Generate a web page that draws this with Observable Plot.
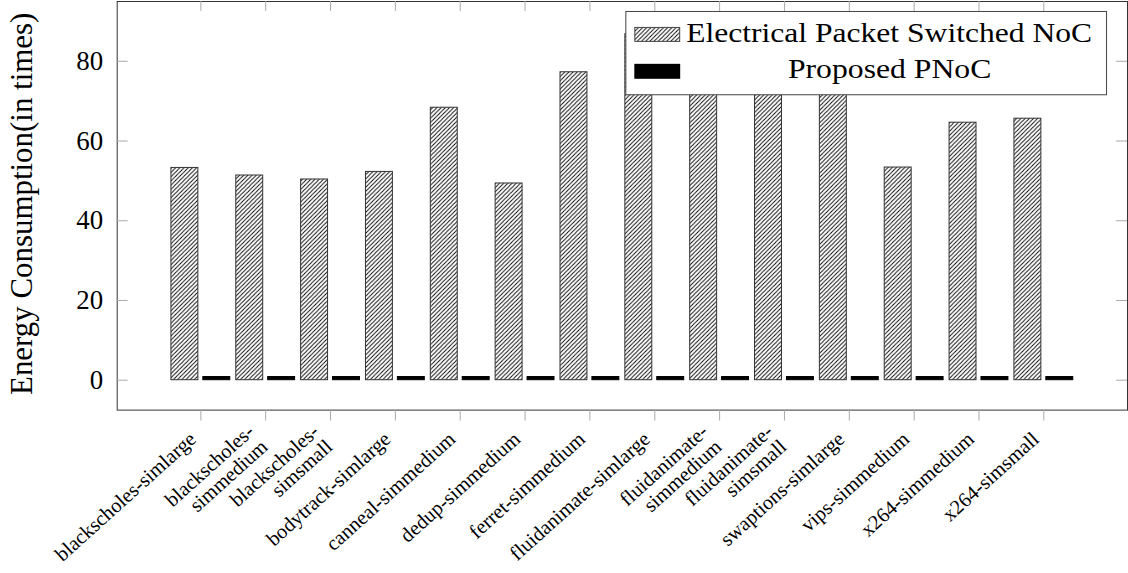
<!DOCTYPE html>
<html>
<head>
<meta charset="utf-8">
<script src="https://cdn.jsdelivr.net/npm/d3@7"></script>
<script src="https://cdn.jsdelivr.net/npm/@observablehq/plot@0.6"></script>
<style>
  html, body { margin: 0; padding: 0; background: #fff; overflow: hidden; }
</style>
</head>
<body>
<div id="chart"></div>
<script>
// PARSEC benchmark runs
const benchmarks = [
  "blackscholes-simlarge", "blackscholes-simmedium", "blackscholes-simsmall",
  "bodytrack-simlarge", "canneal-simmedium", "dedup-simmedium", "ferret-simmedium",
  "fluidanimate-simlarge", "fluidanimate-simmedium", "fluidanimate-simsmall",
  "swaptions-simlarge", "vips-simmedium", "x264-simmedium", "x264-simsmall"
];
// Tick labels as typeset (long names broken over two lines)
const tickLabels = [
  "blackscholes-simlarge", "blackscholes-\nsimmedium", "blackscholes-\nsimsmall",
  "bodytrack-simlarge", "canneal-simmedium", "dedup-simmedium", "ferret-simmedium",
  "fluidanimate-simlarge", "fluidanimate-\nsimmedium", "fluidanimate-\nsimsmall",
  "swaptions-simlarge", "vips-simmedium", "x264-simmedium", "x264-simsmall"
];
// Energy consumption, normalised (in times)
const electricalNoC = [53.25, 51.35, 50.35, 52.25, 68.35, 49.35, 77.25, 86.8, 85.5, 84.5, 86.0, 53.35, 64.6, 65.6];
const proposedPNoC  = [0.8, 0.8, 0.8, 0.8, 0.8, 0.8, 0.8, 0.8, 0.8, 0.8, 0.8, 0.8, 0.8, 0.8];
const seriesNames = ["Electrical Packet Switched NoC", "Proposed PNoC"];
const yTicks = [0, 20, 40, 60, 80];
const yLabel = "Energy Consumption(in times)";

const rows = benchmarks.map((b, i) => ({
  bench: b, label: tickLabels[i], electrical: electricalNoC[i], proposed: proposedPNoC[i]
}));

const serif = "'Liberation Serif', 'Times New Roman', Times, serif";
const W = 1131, H = 573;
const mL = 117, mR = 1, mT = 1, mB = 162.3;
const innerW = W - mL - mR, innerH = H - mT - mB;

const plot = Plot.plot({
  width: W,
  height: H,
  marginLeft: mL, marginRight: mR, marginTop: mT, marginBottom: mB,
  style: { fontFamily: serif, background: "white", color: "black", overflow: "visible" },
  x: { type: "band", domain: benchmarks, paddingInner: 0, paddingOuter: 0.79, round: false, axis: null },
  y: { domain: [-7.5, 95], axis: null },
  marks: [
    Plot.barY(rows, { x: "bench", y: "electrical", fill: "url(#hatch)", stroke: "#333", strokeWidth: 1, insetLeft: 3, insetRight: 35 }),
    Plot.barY(rows, { x: "bench", y: "proposed", fill: "black", stroke: "black", strokeWidth: 1, insetLeft: 35, insetRight: 3 }),
    Plot.frame({ stroke: "#333" }),
    // inward ticks on the left, right and top edges
    Plot.tickY(yTicks, { y: d => d, stroke: "#aaa", insetRight: innerW - 11 }),
    Plot.tickY(yTicks, { y: d => d, stroke: "#aaa", insetLeft: innerW - 11 }),
    Plot.tickX(benchmarks, { x: d => d, stroke: "#aaa", insetBottom: innerH - 10 }),
    // outward ticks below the frame
    Plot.axisX({ tickSize: 11, stroke: "#aaa", tickFormat: () => "", label: null }),
    Plot.axisY({ ticks: yTicks, tickSize: 0, tickPadding: 14, fontSize: 27, label: null }),
    Plot.text([yLabel], { frameAnchor: "left", textAnchor: "middle", rotate: -90, dx: -95, dy: -2, fontSize: 31 }),
    Plot.text(rows, {
      x: "bench", text: "label", frameAnchor: "bottom",
      rotate: -42, textAnchor: "end", lineAnchor: "middle",
      fontSize: 20.5, dx: -8, dy: 26
    })
  ]
});

const svg = d3.select(plot);

// diagonal hatch used by the electrical NoC bars
const defs = svg.insert("defs", ":first-child");
const s = 4.2;
const pat = defs.append("pattern")
  .attr("id", "hatch").attr("patternUnits", "userSpaceOnUse")
  .attr("width", s).attr("height", s);
pat.append("rect").attr("width", s).attr("height", s).attr("fill", "white");
pat.append("path")
  .attr("d", `M-1,1L1,-1M0,${s}L${s},0M${s - 1},${s + 1}L${s + 1},${s - 1}`)
  .attr("stroke", "black").attr("stroke-width", 0.9);

// legend box in the upper right of the plot area
const lg = svg.append("g").attr("font-family", serif);
lg.append("rect")
  .attr("x", 627.5).attr("y", 11.5).attr("width", 482).attr("height", 83.5)
  .attr("fill", "white").attr("stroke", "#444");
lg.append("rect")
  .attr("x", 636.5).attr("y", 27.5).attr("width", 45).attr("height", 14)
  .attr("fill", "url(#hatch)").attr("stroke", "#444");
lg.append("rect")
  .attr("x", 636).attr("y", 64).attr("width", 46).attr("height", 15)
  .attr("fill", "black");
lg.append("text")
  .attr("x", 891.5).attr("y", 42).attr("text-anchor", "middle")
  .attr("font-size", 28).attr("textLength", 407).attr("lengthAdjust", "spacingAndGlyphs")
  .text(seriesNames[0]);
lg.append("text")
  .attr("x", 892).attr("y", 78).attr("text-anchor", "middle")
  .attr("font-size", 28).attr("textLength", 204).attr("lengthAdjust", "spacingAndGlyphs")
  .text(seriesNames[1]);

document.getElementById("chart").appendChild(plot);
</script>
</body>
</html>
